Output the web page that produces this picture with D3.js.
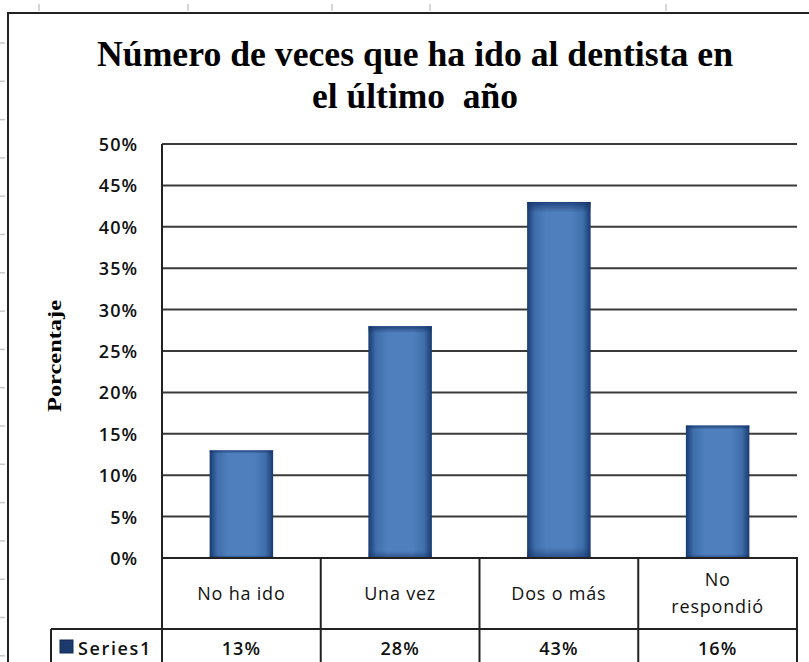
<!DOCTYPE html>
<html lang="es">
<head>
<meta charset="UTF-8">
<title>Número de veces que ha ido al dentista</title>
<style>
  body { margin: 0; background: #fff; }
  svg text { fill: #111; }
  .tick-lbl { font-family: "Open Sans", sans-serif; font-weight: 600; font-size: 18px; letter-spacing: 1px; }
  .cat-lbl { font-family: "Open Sans", sans-serif; font-size: 18px; letter-spacing: 0.8px; }
  .val-lbl { font-family: "Open Sans", sans-serif; font-weight: 600; font-size: 18px; letter-spacing: 1px; }
  .title { font-family: "Liberation Serif", serif; font-weight: bold; font-size: 35px; fill: #000; }
  .ylab { font-family: "Liberation Serif", serif; font-weight: bold; font-size: 19px; fill: #000; }
</style>
</head>
<body>
<svg id="chart" width="809" height="662"></svg>
<script src="https://d3js.org/d3.v7.min.js"></script>
<script>
// data
var categories = ["No ha ido", "Una vez", "Dos o más", "No respondió"];
var values = [0.13, 0.28, 0.43, 0.16];
var yTicks = [0, 0.05, 0.10, 0.15, 0.20, 0.25, 0.30, 0.35, 0.40, 0.45, 0.50];
var seriesName = "Series1";
var titleLines = ["Número de veces que ha ido al dentista en", "el último  año"];

var svg = d3.select("#chart");
var W = 809, H = 662;
var plot = {left: 162, right: 797, top: 144, bottom: 558};
var rowTop = 629;

var x = d3.scaleBand().domain(categories).range([plot.left, plot.right]).padding(0);
var y = d3.scaleLinear().domain([0, 0.5]).range([plot.bottom, plot.top]);
var fmt = d3.format(".0%");

// gradients for the bevelled bars
var defs = svg.append("defs");
var gh = defs.append("linearGradient").attr("id", "barH").attr("x1", 0).attr("x2", 1).attr("y1", 0).attr("y2", 0);
gh.append("stop").attr("offset", "0%").attr("stop-color", "#183a70");
gh.append("stop").attr("offset", "12%").attr("stop-color", "#3f6eaa");
gh.append("stop").attr("offset", "30%").attr("stop-color", "#4f80bd");
gh.append("stop").attr("offset", "70%").attr("stop-color", "#4f80bd");
gh.append("stop").attr("offset", "88%").attr("stop-color", "#3f6eaa");
gh.append("stop").attr("offset", "100%").attr("stop-color", "#183a70");
var gv = defs.append("linearGradient").attr("id", "barV").attr("x1", 0).attr("x2", 0).attr("y1", 0).attr("y2", 1);
gv.append("stop").attr("offset", "0%").attr("stop-color", "#15336a").attr("stop-opacity", 0.8);
gv.append("stop").attr("offset", "3%").attr("stop-color", "#15336a").attr("stop-opacity", 0);
gv.append("stop").attr("offset", "97%").attr("stop-color", "#15336a").attr("stop-opacity", 0);
gv.append("stop").attr("offset", "100%").attr("stop-color", "#15336a").attr("stop-opacity", 0.6);

// spreadsheet bits around the chart
var gridCol = "#c8c8c8";
svg.selectAll(".rowmark").data(d3.range(43, H, 38.3)).enter().append("line")
  .attr("x1", 0).attr("x2", 5).attr("y1", function(d) { return d; }).attr("y2", function(d) { return d; })
  .attr("stroke", gridCol).attr("stroke-width", 1.5);
svg.selectAll(".colmark").data([39, 188, 332, 430, 666]).enter().append("line")
  .attr("x1", function(d) { return d; }).attr("x2", function(d) { return d; }).attr("y1", 4).attr("y2", 11)
  .attr("stroke", gridCol).attr("stroke-width", 1.5);

// chart frame
svg.append("line").attr("x1", 7).attr("x2", W).attr("y1", 13).attr("y2", 13).attr("stroke", "#222").attr("stroke-width", 2);
svg.append("line").attr("x1", 8).attr("x2", 8).attr("y1", 12).attr("y2", H).attr("stroke", "#222").attr("stroke-width", 2);

// title
svg.selectAll(".title").data(titleLines).enter().append("text")
  .attr("class", "title")
  .attr("x", 415)
  .attr("y", function(d, i) { return 66 + i * 42; })
  .attr("text-anchor", "middle")
  .attr("textLength", function(d, i) { return i === 0 ? 636 : 206; })
  .attr("lengthAdjust", "spacingAndGlyphs")
  .style("white-space", "pre")
  .text(function(d) { return d; });

// gridlines
svg.append("g").selectAll("line").data(yTicks).enter().append("line")
  .attr("x1", plot.left).attr("x2", plot.right)
  .attr("y1", function(d) { return y(d); }).attr("y2", function(d) { return y(d); })
  .attr("stroke", "#3a3a3a").attr("stroke-width", 2);

// y axis labels
var yAxis = d3.axisLeft(y).tickValues(yTicks).tickFormat(fmt).tickSize(0).tickPadding(0);
var ya = svg.append("g").attr("transform", "translate(138,0)").call(yAxis);
ya.select(".domain").remove();
ya.selectAll("text").attr("class", "tick-lbl").attr("fill", "#111").attr("dy", "0.36em");

svg.append("text").attr("class", "ylab")
  .attr("transform", "translate(61,356) rotate(-90)")
  .attr("text-anchor", "middle")
  .attr("textLength", 112).attr("lengthAdjust", "spacingAndGlyphs")
  .text("Porcentaje");

// bars
var bw = x.bandwidth() * 0.4;
var bars = svg.append("g").selectAll("g").data(values).enter().append("g");
bars.append("rect")
  .attr("x", function(d, i) { return x(categories[i]) + (x.bandwidth() - bw) / 2; })
  .attr("y", function(d) { return y(d); })
  .attr("width", bw)
  .attr("height", function(d) { return y(0) - y(d); })
  .attr("fill", "url(#barH)");
bars.append("rect")
  .attr("x", function(d, i) { return x(categories[i]) + (x.bandwidth() - bw) / 2; })
  .attr("y", function(d) { return y(d); })
  .attr("width", bw)
  .attr("height", function(d) { return y(0) - y(d); })
  .attr("fill", "url(#barV)");

// data table
var tbl = svg.append("g").attr("stroke", "#222").attr("stroke-width", 2);
tbl.append("line").attr("x1", plot.left).attr("x2", plot.left).attr("y1", plot.top).attr("y2", H);
tbl.append("line").attr("x1", plot.left - 1).attr("x2", plot.right + 1).attr("y1", plot.bottom).attr("y2", plot.bottom);
tbl.append("line").attr("x1", 51).attr("x2", plot.right + 1).attr("y1", rowTop).attr("y2", rowTop);
tbl.append("line").attr("x1", 51).attr("x2", 51).attr("y1", rowTop).attr("y2", H);
tbl.selectAll(".div").data(categories).enter().append("line")
  .attr("x1", function(d) { return x(d) + x.bandwidth(); })
  .attr("x2", function(d) { return x(d) + x.bandwidth(); })
  .attr("y1", plot.bottom).attr("y2", H);

// category labels (wrap "No respondió")
svg.append("g").selectAll("text").data(categories).enter().append("text")
  .attr("class", "cat-lbl")
  .attr("text-anchor", "middle")
  .attr("x", function(d) { return x(d) + x.bandwidth() / 2; })
  .attr("y", 599)
  .each(function(d) {
    var parts = d === "No respondió" ? ["No", "respondió"] : [d];
    var t = d3.select(this);
    parts.forEach(function(p, i) {
      t.append("tspan")
        .attr("x", x(d) + x.bandwidth() / 2)
        .attr("y", parts.length > 1 ? 586 + i * 27 : 600)
        .text(p);
    });
  });

// values row
svg.append("g").selectAll("text").data(values).enter().append("text")
  .attr("class", "val-lbl")
  .attr("text-anchor", "middle")
  .attr("x", function(d, i) { return x(categories[i]) + x.bandwidth() / 2; })
  .attr("y", 655)
  .text(function(d) { return fmt(d); });

// legend key in table
svg.append("rect").attr("x", 60).attr("y", 640).attr("width", 13).attr("height", 13)
  .attr("fill", "#1c3a6e").attr("stroke", "#122a55").attr("stroke-width", 1);
svg.append("text").attr("class", "cat-lbl").attr("x", 78).attr("y", 655)
  .style("font-weight", 600)
  .attr("textLength", 73).attr("lengthAdjust", "spacing")
  .text(seriesName);
</script>
</body>
</html>
